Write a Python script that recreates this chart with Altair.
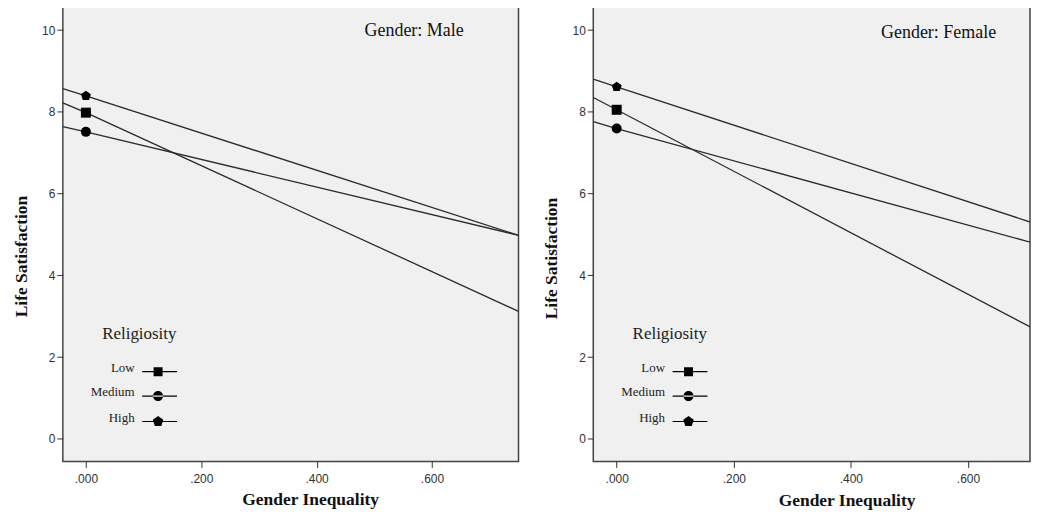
import altair as alt
import pandas as pd

# ---- data ----
religiosity = ["Low", "Medium", "High"]
line_x = [-0.04, 0.0, 0.75]          # x where each fitted line was read
male_low = [8.22, 7.98, 3.12]
male_medium = [7.64, 7.51, 4.98]
male_high = [8.57, 8.39, 4.98]
female_low = [8.35, 8.05, 2.41]
female_medium = [7.76, 7.59, 4.64]
female_high = [8.80, 8.61, 5.10]
marker_x = 0.0
x_ticks = [0.0, 0.2, 0.4, 0.6]
y_ticks = [0, 2, 4, 6, 8, 10]

series = {
    ("Male", "Low"): male_low,
    ("Male", "Medium"): male_medium,
    ("Male", "High"): male_high,
    ("Female", "Low"): female_low,
    ("Female", "Medium"): female_medium,
    ("Female", "High"): female_high,
}
rows = []
for (g, r), ys in series.items():
    for xv, yv in zip(line_x, ys):
        rows.append({"gender": g, "religiosity": r, "x": xv, "y": yv})
df = pd.DataFrame(rows)

SERIF = "Liberation Serif"
SANS = "Liberation Sans"

PENTA = "M0,-1.05L1,-0.32L0.62,0.85L-0.62,0.85L-1,-0.32Z"
marker_shapes = ["square", "circle", PENTA]

# legend glyphs: thin filled bar (the line) with the marker on it, drawn to the
# right of the nominal symbol slot so that labels sit on the left
LINE = "M1.63,-0.05H4.54V0.05H1.63Z"
leg_shapes = [
    LINE + "M2.585,-0.375H3.335V0.375H2.585Z",
    LINE + "M2.54,0A0.42,0.42,0,1,0,3.38,0A0.42,0.42,0,1,0,2.54,0Z",
    LINE + "M2.96,-0.46L3.397,-0.142L3.23,0.372L2.69,0.372L2.523,-0.142Z",
]


def panel(gender, width, xmax, title_dx, title_off, xtitle_x, xtitle_y, ytitle_x, ytitle_y, leg_x, leg_y):
    sub = df[df.gender == gender]
    base = alt.Chart(sub)
    x = alt.X(
        "x:Q",
        scale=alt.Scale(domain=[-0.04, xmax], nice=False, zero=False),
        axis=alt.Axis(
            values=x_ticks,
            labelExpr="replace(format(datum.value, '.3f'), '0.', '.')",
            title="Gender Inequality",
            titleFont=SERIF, titleFontSize=17.5, titleFontWeight="bold", titleColor="#111",
            titleX=xtitle_x, titleY=xtitle_y, titleBaseline="alphabetic", titleAlign="center",
            labelFont=SANS, labelFontSize=12, labelColor="#333", labelPadding=6, labelFlush=False,
            tickSize=6, tickColor="#333", domain=False, grid=False,
        ),
    )
    y = alt.Y(
        "y:Q",
        scale=alt.Scale(domain=[-0.55, 10.57], nice=False, zero=False),
        axis=alt.Axis(
            values=y_ticks,
            title="Life Satisfaction",
            titleFont=SERIF, titleFontSize=17.5, titleFontWeight="bold", titleColor="#111",
            titleX=ytitle_x, titleY=ytitle_y, titleBaseline="alphabetic", titleAlign="center",
            labelFont=SANS, labelFontSize=12, labelColor="#333", labelPadding=2, labelFlush=False,
            tickSize=6, tickColor="#333", domain=False, grid=False,
        ),
    )
    lines = base.mark_line(color="#2a2a2a", strokeWidth=1.3, clip=True).encode(
        x=x, y=y, detail="religiosity:N"
    )
    pts_base = base.transform_filter(alt.datum.x == marker_x)
    pts = pts_base.mark_point(filled=True, color="black", size=100, opacity=1).encode(
        x=x, y=y,
        shape=alt.Shape("religiosity:N", scale=alt.Scale(domain=religiosity, range=marker_shapes), legend=None),
    )
    leg = pts_base.mark_point(filled=True, color="black", size=576, opacity=0).encode(
        x=x, y=y,
        shape=alt.Shape(
            "religiosity:N",
            scale=alt.Scale(domain=religiosity, range=leg_shapes),
            legend=alt.Legend(
                orient="none", legendX=leg_x, legendY=leg_y,
                title="Religiosity", titleFont=SERIF, titleFontSize=17, titleFontWeight="normal",
                titleColor="#222", titleAnchor="end", titlePadding=17,
                labelFont=SERIF, labelFontSize=13, labelColor="#222", labelAlign="right",
                labelOffset=0, labelBaseline="alphabetic", labelLimit=0,
                rowPadding=7.5, padding=0, offset=0,
                symbolSize=576, symbolStrokeWidth=0,
                symbolFillColor="black", symbolOpacity=1,
            ),
        ),
    )
    return (
        alt.layer(lines, pts, leg)
        .resolve_scale(shape="independent")
        .properties(
            width=width, height=456,
            title=alt.TitleParams(
                text="Gender: " + gender, anchor="end", orient="top", frame="group",
                offset=title_off, dx=title_dx, baseline="middle",
                font=SERIF, fontSize=18, fontWeight="normal", color="#111",
            ),
        )
    )


left = panel("Male", 457, 0.75, -55, -42, 248, 43, -36, 250, 39, 320)
right = panel("Female", 438, 0.706, -34, -44, 254, 44, -37, 252, 39, 320)

chart = (
    alt.hconcat(left, right, spacing=22)
    .resolve_scale(shape="independent", x="independent", y="independent")
    .resolve_legend(shape="independent")
    .properties(padding={"left": 4, "top": -3, "right": 0, "bottom": 0})
    .configure(background="white")
    .configure_view(fill="#f0f0f0", stroke="#444", strokeWidth=1.5)
)

chart.save("out.html", embed_options={"renderer": "svg", "actions": False})
